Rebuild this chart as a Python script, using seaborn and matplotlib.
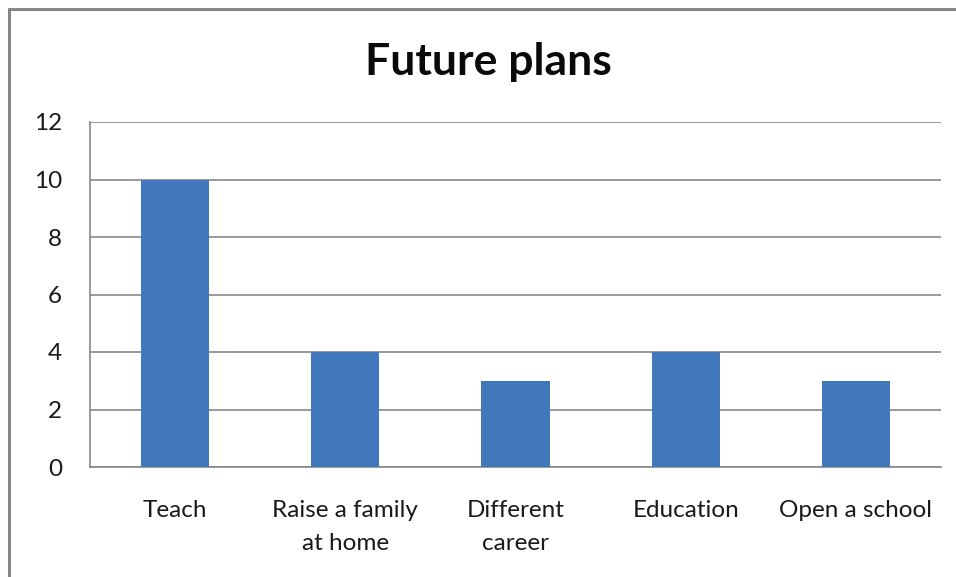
import matplotlib
matplotlib.use("Agg")
import matplotlib.pyplot as plt
from matplotlib.lines import Line2D
import seaborn as sns
import pandas as pd

# Survey responses: future plans
categories = ["Teach", "Raise a family\nat home", "Different\ncareer", "Education", "Open a school"]
counts = [10, 4, 3, 4, 3]
yticks = [0, 2, 4, 6, 8, 10, 12]

sns.set_theme(style="white")
plt.rcParams["font.family"] = ["Lato", "DejaVu Sans"]

df = pd.DataFrame({"plan": categories, "count": counts})

W, H = 956, 577
fig = plt.figure(figsize=(W / 100, H / 100), dpi=100)
ax = fig.add_axes([90 / W, 1 - 467 / H, (941 - 90) / W, (467 - 122) / H])

grid_color = "#878787"
sns.barplot(data=df, x="plan", y="count", color="#4178BC", width=0.4,
            saturation=1, linewidth=0, edgecolor="none", ax=ax, zorder=3)

ax.set_ylim(0, 12)
ax.set_yticks(yticks)
ax.set_yticklabels([str(v) for v in yticks])
ax.yaxis.grid(True, color=grid_color, linewidth=1.2, zorder=0)
ax.set_axisbelow(True)
ax.set_xlabel("")
ax.set_ylabel("")

for side in ("top", "right"):
    ax.spines[side].set_visible(False)
for side in ("left", "bottom"):
    ax.spines[side].set_color(grid_color)
    ax.spines[side].set_linewidth(1.2)

ax.tick_params(axis="y", length=0, pad=20, labelsize=17.5, labelcolor="#1a1a1a")
ax.tick_params(axis="x", length=0, pad=24, labelsize=17.5, labelcolor="#1a1a1a")
for lbl in ax.get_xticklabels():
    lbl.set_linespacing(1.7)

fig.text(488 / W, 1 - 62 / H, "Future plans", ha="center", va="center",
         fontsize=32, fontweight="bold", color="#0a0a0a")

# Chart frame (top and left edges)
fig.add_artist(Line2D([9 / W, 1], [1 - 9 / H, 1 - 9 / H], color="#868686",
                      linewidth=2.2, transform=fig.transFigure))
fig.add_artist(Line2D([9 / W, 9 / W], [0, 1 - 9 / H], color="#868686",
                      linewidth=2.2, transform=fig.transFigure))

fig.savefig("out.png", dpi=100, facecolor="white")
